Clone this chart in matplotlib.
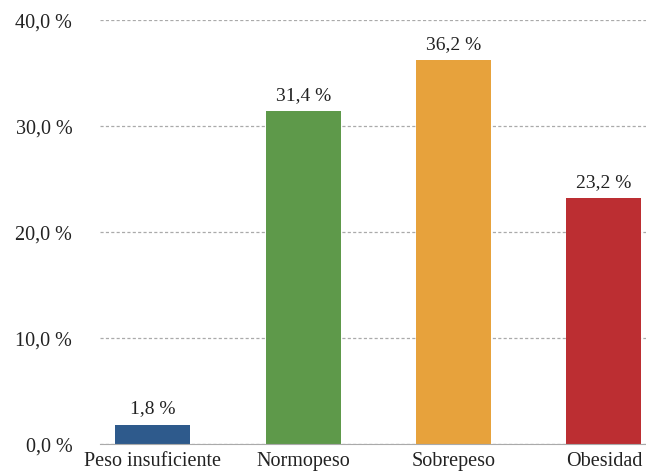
import matplotlib
matplotlib.use("Agg")
import matplotlib.pyplot as plt
from matplotlib.ticker import FuncFormatter

categorias = ["Peso insuficiente", "Normopeso", "Sobrepeso", "Obesidad"]
porcentajes = [1.8, 31.4, 36.2, 23.2]
colores = ["#2E5A8C", "#5E994A", "#E7A23C", "#BC2E32"]

plt.rcParams["font.family"] = ["Liberation Serif", "DejaVu Serif"]


def fmt_pct(v):
    return f"{v:.1f} %".replace(".", ",")


fig = plt.figure(figsize=(6.46, 4.77), dpi=100)
ax = fig.add_axes([0.155, 0.067, 0.845, 0.889])

x = range(len(categorias))
barras = ax.bar(x, porcentajes, width=0.5, color=colores, zorder=3)

for b, v in zip(barras, porcentajes):
    ax.text(b.get_x() + b.get_width() / 2, v + 0.8, fmt_pct(v),
            ha="center", va="bottom", fontsize=14, color="#222222")

ax.set_ylim(0, 40)
ax.set_xlim(-0.35, 3.28)
ax.set_yticks([0, 10, 20, 30, 40])
ax.yaxis.set_major_formatter(FuncFormatter(lambda v, p: fmt_pct(v)))
ax.set_xticks(list(x))
ax.set_xticklabels(categorias)
ax.tick_params(axis="both", length=0, labelsize=14.5, colors="#222222", pad=5)
ax.tick_params(axis="y", pad=20)

ax.grid(axis="y", linestyle=(0, (2.5, 1.8)), color="#AAAAAA", linewidth=0.9, zorder=0)
for s in ["top", "right", "left"]:
    ax.spines[s].set_visible(False)
ax.spines["bottom"].set_color("#AAAAAA")
ax.spines["bottom"].set_zorder(4)

fig.savefig("out.png", dpi=100)
